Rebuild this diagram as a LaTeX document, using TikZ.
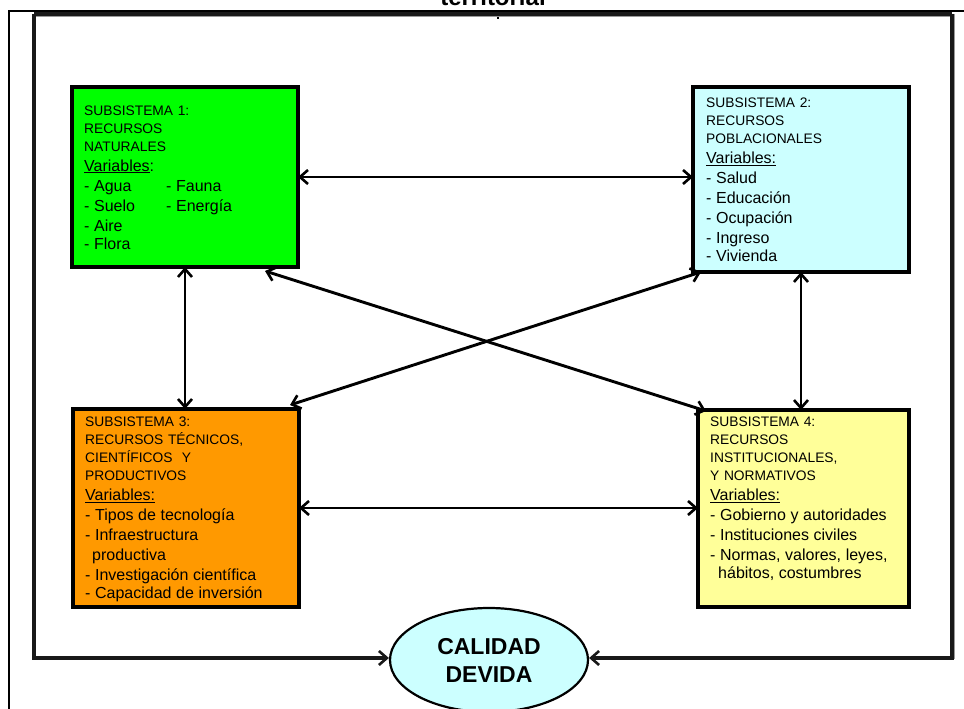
\documentclass[tikz,border=0pt]{standalone}
\usepackage{fontspec}
\setmainfont{Liberation Sans}
\usetikzlibrary{arrows.meta,shapes.geometric,calc}
\definecolor{cgreen}{HTML}{00FF00}
\definecolor{ccyan}{HTML}{CCFFFF}
\definecolor{corange}{HTML}{FF9900}
\definecolor{cyellow}{HTML}{FFFF99}
\newcommand\headf{\fontsize{13.8}{18}\selectfont}
\newcommand\bodyf{\fontsize{16}{20}\selectfont}
\begin{document}
\begin{tikzpicture}[x=1pt,y=-1pt,
  box/.style={draw=black,line width=3.2pt,rectangle,inner sep=0pt,outer sep=0pt,anchor=north west},
  boxtext/.style={anchor=north west,inner sep=0pt,text width=215pt,align=left,font=\headf},
  barb/.tip={Straight Barb[length=8pt,width=14pt,line width=2.6pt]},
  link/.style={line width=2.9pt,barb-barb},
  frame/.style={line width=3.2pt,black!90},
  shadow/.style={line width=2.4pt,black!40}]
\useasboundingbox (0,0) rectangle (964,709);
% outer thin frame
\coordinate (oa) at (964,11);
\coordinate (ob) at (9,11);
\coordinate (oc) at (9,709);
\draw[line width=2.4pt] (oa) -- (ob) -- (oc);
% title (cut off at the top edge, as in the reference)
\node[font=\bfseries\fontsize{24}{28}\selectfont,anchor=base,inner sep=0pt] (title) at (493,6) {territorial};
% tick
\coordinate (tk) at (498,11);
\draw[line width=1.6pt] (tk) -- ++(0,8);
% ellipse
\node[ellipse,draw=black,line width=2.2pt,fill=ccyan,minimum width=198pt,minimum height=104pt,inner sep=0pt,
  align=center,font=\bfseries\fontsize{23}{28}\selectfont] (cd) at (489,660) {CALIDAD\\DEVIDA};
% inner frame
\coordinate (fl) at (34,14);
\coordinate (fr) at (952,14);
\draw[shadow] ($(fl)+(1.5,1.5)$) -- ($(fr)+(1.5,1.5)$) -- ($(fr)+(1.5,645)$);
\draw[frame] (fl) -- (fr);
\draw[frame,-barb] (fl) |- ($(cd.west)+(0,-2)$);
\draw[frame,-barb] (fr) |- ($(cd.east)+(0,-2)$);
% boxes
\node[box,fill=cgreen,minimum width=226pt,minimum height=180pt] (s1) at (72,87) {};
\node[box,fill=ccyan,minimum width=216pt,minimum height=185pt] (s2) at (693,87) {};
\node[box,fill=corange,minimum width=226pt,minimum height=198pt] (s3) at (73,409) {};
\node[box,fill=cyellow,minimum width=211pt,minimum height=197pt] (s4) at (698,410) {};
% box texts
\node[boxtext] (t1) at (84,105.3) {SUBSISTEMA 1:\\RECURSOS\\NATURALES\par\bodyf
  \underline{Variables}:\\\makebox[82pt][l]{- Agua}- Fauna\\\makebox[82pt][l]{- Suelo}- Energía\\- Aire\\- Flora};
\node[boxtext] (t2) at (706,98) {SUBSISTEMA 2:\\RECURSOS\\POBLACIONALES\par\bodyf
  \underline{Variables:}\\- Salud\\- Educación\\- Ocupación\\- Ingreso\\- Vivienda};
\node[boxtext] (t3) at (85,417) {SUBSISTEMA 3:\\RECURSOS TÉCNICOS,\\CIENTÍFICOS\ \ Y\\PRODUCTIVOS\par\bodyf
  \underline{Variables:}\\- Tipos de tecnología\\- Infraestructura\\\hspace*{7pt}productiva\\- Investigación científica\\- Capacidad de inversión};
\node[boxtext] (t4) at (710,417) {SUBSISTEMA 4:\\RECURSOS\\INSTITUCIONALES,\\Y NORMATIVOS\par\bodyf
  \underline{Variables:}\\- Gobierno y autoridades\\- Instituciones civiles\\- Normas, valores, leyes,\\\hspace*{8pt}hábitos, costumbres};
% connectors
\draw[link] (s1.east) -- (s1.east -| s2.west);
\draw[link] (s3.east) -- (s3.east -| s4.west);
\draw[link] (s1.south) -- (s1.south |- s3.north);
\draw[link] (s2.south) -- (s2.south |- s4.north);
\draw[link] ($(s1.south east)+(-33,4)$) -- ($(s4.north west)+(8,1)$);
\draw[link] ($(s2.south west)+(8,0)$) -- ($(s3.north east)+(-9,-4)$);
\end{tikzpicture}
\end{document}
